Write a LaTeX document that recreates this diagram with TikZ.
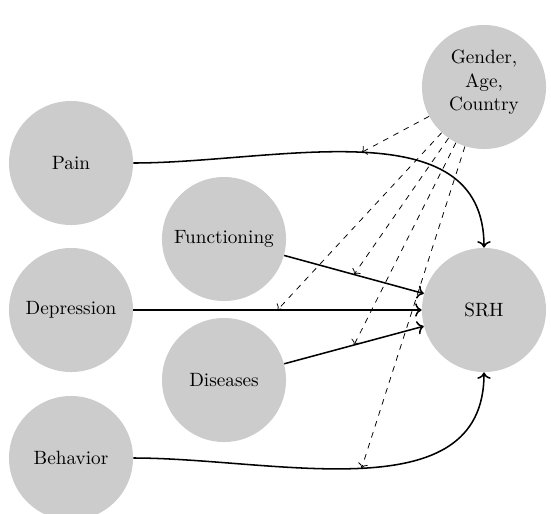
\documentclass[tikz,border=0pt]{standalone}
\usepackage{tikz}
\usetikzlibrary{arrows.meta,calc}
\definecolor{vargray}{HTML}{CCCCCC}

\begin{document}
\begin{tikzpicture}[x=0.52pt,y=0.52pt,
  var/.style={circle,fill=vargray,minimum size=64.5pt,inner sep=0pt,align=center},
  effect/.style={->,thick},
  control/.style={->,dashed}]
\useasboundingbox (0,0) rectangle (551,513);
% variables
\node[var] (pain) at (71,350) {Pain};
\node[var] (depr) at (71,203) {Depression};
\node[var] (behav) at (71,55) {Behavior};
\node[var] (func) at (224,274) {Functioning};
\node[var] (dis) at (224,133) {Diseases};
\node[var] (srh) at (484,203) {SRH};
\node[var,text depth=7pt] (cov) at (484,426) {Gender,\\Age,\\Country};
% direct effects
\draw[effect] (pain) to[out=0,in=90] node[coordinate,pos=0.5] (mpain) {} (srh);
\draw[effect] (func) -- node[coordinate,pos=0.5] (mfunc) {} (srh);
\draw[effect] (depr) -- node[coordinate,pos=0.5] (mdepr) {} (srh);
\draw[effect] (dis) -- node[coordinate,pos=0.5] (mdis) {} (srh);
\draw[effect] (behav) to[out=0,in=-90] node[coordinate,pos=0.5] (mbehav) {} (srh);
% adjustment for covariates
\foreach \m in {mpain,mfunc,mdepr,mdis,mbehav}
  \draw[control] (cov) -- (\m);
\end{tikzpicture}
\end{document}
